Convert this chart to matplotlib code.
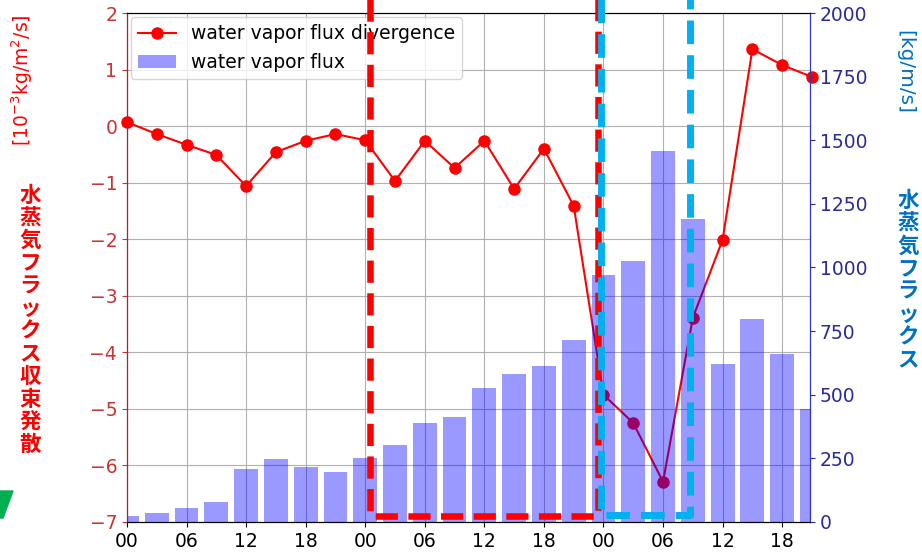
import numpy as np
import matplotlib
matplotlib.use("Agg")
import matplotlib.pyplot as plt
from matplotlib.patches import Polygon

plt.rcParams['font.family'] = ['DejaVu Sans', 'Noto Sans CJK JP']

# hours since day-1 00 UTC, every 3 h over 3 days
hours = np.arange(0, 72, 3)

# water vapor flux divergence [10^-3 kg/m^2/s]
divergence = [0.07, -0.14, -0.33, -0.51, -1.06, -0.46, -0.26, -0.14,
              -0.25, -0.97, -0.26, -0.74, -0.26, -1.11, -0.40, -1.41,
              -4.75, -5.25, -6.29, -3.39, -2.01, 1.36, 1.08, 0.87]

# water vapor flux [kg/m/s]
flux = [25, 35, 56, 79, 208, 246, 217, 198,
        253, 301, 389, 413, 527, 582, 613, 715,
        970, 1025, 1458, 1190, 621, 798, 660, 444]

tick_pos = np.arange(0, 67, 6)
tick_labels = ["00", "06", "12", "18"] * 3

# highlighted periods (x range in hours, bottom on the flux axis)
red_box = (24.5, 47.4, 22)
blue_box = (47.7, 56.7, 27)

fig = plt.figure(figsize=(9.22, 5.56), dpi=100)
ax1 = fig.add_axes([0.1377, 0.0612, 0.8785 - 0.1377, 0.9766 - 0.0612])
ax2 = ax1.twinx()

ax1.plot(hours, divergence, 'o-', color='red', linewidth=1.5, markersize=8,
         label='water vapor flux divergence', clip_on=False, zorder=3)
ax2.bar(hours, flux, width=2.4, color='blue', alpha=0.4, label='water vapor flux')

ax1.set_xlim(0, 68.8)
ax1.set_ylim(-7, 2)
ax2.set_ylim(0, 2000)
ax1.set_xticks(tick_pos)
ax1.set_xticklabels(tick_labels)
ax1.set_yticks(np.arange(-7, 3, 1))
ax2.set_yticks(np.arange(0, 2001, 250))
ax1.grid(True)

ax1.tick_params(axis='x', labelsize=13.5)
ax1.tick_params(axis='y', labelsize=13.5, colors='#cc3333')
ax2.tick_params(axis='y', labelsize=13.5, colors='#2b2b99')
ax2.spines['left'].set_color('red')
ax2.spines['right'].set_color('#3333bb')

h1, l1 = ax1.get_legend_handles_labels()
h2, l2 = ax2.get_legend_handles_labels()
ax2.legend(h1 + h2, l1 + l2, loc='upper left', fontsize=13.5,
           borderaxespad=0.2)

# dashed highlight boxes
for (x0, x1, yb), col, lw in [(red_box, 'red', 4.7), (blue_box, '#00b0f0', 5.0)]:
    ax2.plot([x0, x0, x1, x1], [2080, yb, yb, 2080], color=col, lw=lw,
             linestyle=(0, (3.4, 1.6)), clip_on=False, zorder=6)

# axis labels
fig.text(22 / 922, 1 - 80 / 556, r"[10$^{-3}$kg/m$^2$/s]", rotation=90,
         color='red', fontsize=13.5, ha='center', va='center')
fig.text(30 / 922, 1 - 320 / 556, "\n".join("水蒸気フラックス収束発散"),
         color='red', fontsize=15.5, fontweight='bold', family='Noto Sans CJK JP',
         ha='center', va='center', linespacing=1.1)
fig.text(905 / 922, 1 - 72 / 556, "[kg/m/s]", rotation=-90,
         color='#0070c0', fontsize=14.5, ha='center', va='center')
fig.text(908 / 922, 1 - 280 / 556, "\n".join("水蒸気フラックス"),
         color='#0070c0', fontsize=15.5, fontweight='bold', family='Noto Sans CJK JP',
         ha='center', va='center', linespacing=1.1)

# small green marker at the bottom-left corner
tri = Polygon([(0, 1 - 491 / 556), (13 / 922, 1 - 491 / 556),
               (3 / 922, 1 - 518 / 556), (0, 1 - 518 / 556)],
              closed=True, color='#00b050', transform=fig.transFigure)
fig.add_artist(tri)

fig.savefig("out.png", dpi=100)
